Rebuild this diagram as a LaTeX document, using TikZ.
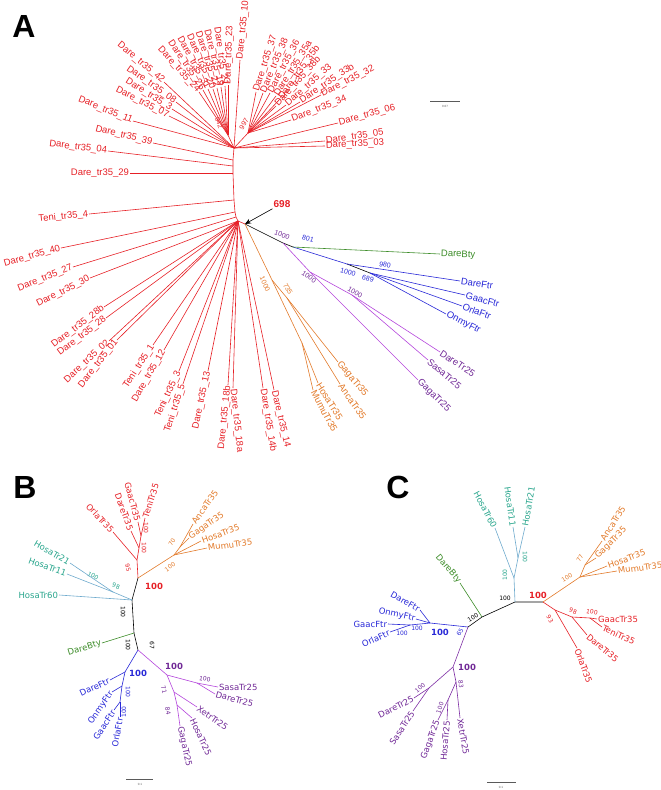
\documentclass[tikz,border=0pt]{standalone}
\usepackage{fontspec}
\newfontfamily\fa{Liberation Sans}
\newfontfamily\fb{DejaVu Sans}
\usetikzlibrary{arrows.meta}
\definecolor{cred}{RGB}{230,32,38}
\definecolor{corange}{RGB}{226,122,42}
\definecolor{cpurple}{RGB}{112,40,150}
\definecolor{cmagenta}{RGB}{180,70,220}
\definecolor{cblue}{RGB}{40,40,215}
\definecolor{cgreen}{RGB}{60,140,40}
\definecolor{cteal}{RGB}{40,165,140}
\definecolor{ctealline}{RGB}{110,170,205}
\definecolor{cgrey}{RGB}{90,90,90}

\begin{document}
\begin{tikzpicture}[x=1pt, y=-1pt,
    leafa/.style={inner sep=0.8pt, font=\fa\fontsize{9.5}{10}\selectfont},
    leafb/.style={inner sep=0.8pt, font=\fb\fontsize{8.5}{9}\selectfont},
    boota/.style={inner sep=0pt, font=\fa\fontsize{7}{7}\selectfont},
    bootb/.style={inner sep=0pt, font=\fb\fontsize{6}{6}\selectfont},
    bigboot/.style={inner sep=0pt, font=\fb\bfseries\fontsize{8.5}{9}\selectfont},
    panel/.style={inner sep=0pt, font=\fa\bfseries\fontsize{32}{32}\selectfont},
    br/.style={line width=0.6pt},
    scalebar/.style={line width=0.8pt, cgrey}]
\useasboundingbox (0,0) rectangle (661,790);

% ---------- panel A ----------
\node[panel] (pa) at (24,26) {A};

\coordinate (j0) at (234,148);
\coordinate (n942) at (228,135);
\coordinate (n997) at (248,133);
\coordinate (s1) at (233,160);
\coordinate (s2) at (233,166);
\coordinate (s3) at (233,173.5);
\coordinate (s4) at (234,200);
\coordinate (s5) at (235,212);
\coordinate (s6) at (236,217);
\coordinate (rA) at (238,221);
\coordinate (tipA) at (245,224);
\draw[br,cred] (j0) -- (s1) -- (s2) -- (s3) -- (s4) -- (s5) -- (s6) -- (rA);
\draw[br,cred] (j0) -- (n942);
\draw[br,cred] (j0) -- (n997);
\draw[br,cred] (rA) -- (tipA);

\node[boota,cred,rotate=-70] (b942) at (219,123) {942};
\node[boota,cred,rotate=60] (b997) at (244,124) {997};

\node[leafa,cred,rotate=-40,anchor=east] (a42) at (164,82) {Dare\_tr35\_42};
\node[leafa,cred,rotate=-35,anchor=east] (a08) at (176,102) {Dare\_tr35\_08};
\node[leafa,cred,rotate=-32,anchor=east] (a3) at (172,109) {Dare\_tr35\_3};
\node[leafa,cred,rotate=-27,anchor=east] (a07) at (169,116) {Dare\_tr35\_07};
\node[leafa,cred,rotate=-22,anchor=east] (a11) at (133,121) {Dare\_tr35\_11};
\draw[br,cred] (j0) -- (a42.east);
\draw[br,cred] (j0) -- (a08.east);
\draw[br,cred] (j0) -- (a3.east);
\draw[br,cred] (j0) -- (a07.east);
\draw[br,cred] (j0) -- (a11.east);

\node[leafa,cred,rotate=-48,anchor=east] (a24) at (199,92) {Dare\_tr35\_24};
\node[leafa,cred,rotate=-56,anchor=east] (a26) at (203,90) {Dare\_tr35\_26};
\node[leafa,cred,rotate=-61,anchor=east] (a31) at (208,89) {Dare\_tr35\_31};
\node[leafa,cred,rotate=-66,anchor=east] (a20) at (213,89) {Dare\_tr35\_20};
\node[leafa,cred,rotate=-71,anchor=east] (a22) at (217,88) {Dare\_tr35\_22};
\node[leafa,cred,rotate=-76,anchor=east] (a19) at (221,87) {Dare\_tr35\_19};
\node[leafa,cred,rotate=-82,anchor=east] (a21) at (225,86) {Dare\_tr35\_21};
\node[leafa,cred,rotate=88,anchor=west] (a23) at (228,85) {Dare\_tr35\_23};
\node[leafa,cred,rotate=84,anchor=west] (a10) at (240,60) {Dare\_tr35\_10};
\draw[br,cred] (n942) -- (a24.east);
\draw[br,cred] (n942) -- (a26.east);
\draw[br,cred] (n942) -- (a31.east);
\draw[br,cred] (n942) -- (a20.east);
\draw[br,cred] (n942) -- (a22.east);
\draw[br,cred] (n942) -- (a19.east);
\draw[br,cred] (n942) -- (a21.east);
\draw[br,cred] (n942) -- (a23.west);
\draw[br,cred] (j0) -- (a10.west);

\node[leafa,cred,rotate=72,anchor=west] (a37) at (256,92) {Dare\_tr35\_37};
\node[leafa,cred,rotate=67,anchor=west] (a38) at (263,93) {Dare\_tr35\_38};
\node[leafa,cred,rotate=62,anchor=west] (a36) at (270,93) {Dare\_tr35\_36};
\node[leafa,cred,rotate=58,anchor=west] (a35a) at (276,96) {Dare\_tr35\_35a};
\node[leafa,cred,rotate=54,anchor=west] (a35b) at (280,99) {Dare\_tr35\_35b};
\node[leafa,cred,rotate=48,anchor=west] (a38b) at (276,106) {Dare\_tr35\_38b};
\node[leafa,cred,rotate=41,anchor=west] (a33) at (286,105) {Dare\_tr35\_33};
\node[leafa,cred,rotate=34,anchor=west] (a33b) at (300,102) {Dare\_tr35\_33b};
\node[leafa,cred,rotate=27,anchor=west] (a32) at (321,95) {Dare\_tr35\_32};
\node[leafa,cred,rotate=21,anchor=west] (a34) at (291,120) {Dare\_tr35\_34};
\draw[br,cred] (n997) -- (a37.west);
\draw[br,cred] (n997) -- (a38.west);
\draw[br,cred] (n997) -- (a36.west);
\draw[br,cred] (n997) -- (a35a.west);
\draw[br,cred] (n997) -- (a35b.west);
\draw[br,cred] (n997) -- (a38b.west);
\draw[br,cred] (n997) -- (a33.west);
\draw[br,cred] (n997) -- (a33b.west);
\draw[br,cred] (n997) -- (a32.west);
\draw[br,cred] (n997) -- (a34.west);

\node[leafa,cred,rotate=15,anchor=west] (a06) at (338,123) {Dare\_tr35\_06};
\node[leafa,cred,rotate=8,anchor=west] (a05) at (325,141) {Dare\_tr35\_05};
\node[leafa,cred,rotate=3,anchor=west] (a03) at (325,146) {Dare\_tr35\_03};
\draw[br,cred] (j0) -- (a06.west);
\draw[br,cred] (j0) -- (a05.west);
\draw[br,cred] (j0) -- (a03.west);

\node[leafa,cred,rotate=-14,anchor=east] (a39) at (153,143) {Dare\_tr35\_39};
\node[leafa,cred,rotate=-7,anchor=east] (a04) at (108,151) {Dare\_tr35\_04};
\node[leafa,cred,anchor=east] (a29) at (130,173.5) {Dare\_tr35\_29};
\node[leafa,cred,rotate=6,anchor=east] (t4) at (89,214) {Teni\_tr35\_4};
\node[leafa,cred,rotate=16,anchor=east] (a40) at (61,248) {Dare\_tr35\_40};
\node[leafa,cred,rotate=22,anchor=east] (a27) at (73,267) {Dare\_tr35\_27};
\draw[br,cred] (s1) -- (a39.east);
\draw[br,cred] (s2) -- (a04.east);
\draw[br,cred] (s3) -- (a29.east);
\draw[br,cred] (s4) -- (t4.east);
\draw[br,cred] (s5) -- (a40.east);
\draw[br,cred] (s6) -- (a27.east);

\node[leafa,cred,rotate=27,anchor=east] (a30) at (90,278) {Dare\_tr35\_30};
\node[leafa,cred,rotate=37,anchor=east] (a28b) at (104,307) {Dare\_tr35\_28b};
\node[leafa,cred,rotate=37,anchor=east] (a28) at (106,318) {Dare\_tr35\_28};
\node[leafa,cred,rotate=43,anchor=east] (a02) at (109,341) {Dare\_tr35\_02};
\node[leafa,cred,rotate=52,anchor=east] (a01) at (117,340) {Dare\_tr35\_01};
\node[leafa,cred,rotate=57,anchor=east] (t1) at (153,345) {Teni\_tr35\_1};
\node[leafa,cred,rotate=60,anchor=east] (a12) at (164,350) {Dare\_tr35\_12};
\node[leafa,cred,rotate=65,anchor=east] (t3) at (179,371) {Teni\_tr35\_3};
\node[leafa,cred,rotate=72,anchor=east] (t5) at (183,384) {Teni\_tr35\_5};
\node[leafa,cred,rotate=78,anchor=east] (a13) at (208,371) {Dare\_tr35\_13};
\node[leafa,cred,rotate=84,anchor=east] (a18b) at (228,385) {Dare\_tr35\_18b};
\node[leafa,cred,rotate=-84,anchor=west] (a18a) at (233,388) {Dare\_tr35\_18a};
\node[leafa,cred,rotate=-81,anchor=west] (a14b) at (263,388) {Dare\_tr35\_14b};
\node[leafa,cred,rotate=-77,anchor=west] (a14) at (274,390) {Dare\_tr35\_14};
\draw[br,cred] (rA) -- (a30.east);
\draw[br,cred] (rA) -- (a28b.east);
\draw[br,cred] (rA) -- (a28.east);
\draw[br,cred] (rA) -- (a02.east);
\draw[br,cred] (rA) -- (a01.east);
\draw[br,cred] (rA) -- (t1.east);
\draw[br,cred] (rA) -- (a12.east);
\draw[br,cred] (rA) -- (t3.east);
\draw[br,cred] (rA) -- (t5.east);
\draw[br,cred] (rA) -- (a13.east);
\draw[br,cred] (rA) -- (a18b.east);
\draw[br,cred] (rA) -- (a18a.west);
\draw[br,cred] (rA) -- (a14b.west);
\draw[br,cred] (rA) -- (a14.west);

\node[font=\fa\bfseries\fontsize{10}{10}\selectfont, text=cred, inner sep=1pt] (b698) at (282,204) {698};
\draw[-{Stealth[length=6pt,width=5pt]}, line width=0.6pt] (b698.south west) -- (tipA);

% outgroups of panel A
\coordinate (nA1) at (283,243);
\coordinate (nA2) at (293,247);
\coordinate (nB1) at (347,264);
\coordinate (nB2) at (370,273);
\coordinate (nP1) at (310,272);
\coordinate (nP2) at (352,295);
\coordinate (nO1) at (272,280);
\coordinate (nO2) at (287,298);
\coordinate (nO3) at (302,343);
\draw[br,black] (tipA) -- (nA1) -- (nA2);
\draw[br,cblue] (nA2) -- (nB1);
\draw[br,black] (nB1) -- (nB2);
\draw[br,cmagenta] (nA1) -- (nP1) -- (nP2);
\draw[br,corange] (tipA) -- (nO1) -- (nO2);
\draw[br,corange] (nO1) -- (nO3);

\node[boota,cpurple,rotate=-20] (q1) at (282,235) {1000};
\node[boota,cblue,rotate=-15] (q2) at (308,239) {801};
\node[boota,cblue,rotate=-12] (q3) at (385,265) {980};
\node[boota,cblue,rotate=-15] (q4) at (348,272) {1000};
\node[boota,cblue,rotate=-15] (q5) at (368,279) {689};
\node[boota,cpurple,rotate=-35] (q6) at (309,277) {1000};
\node[boota,cpurple,rotate=-30] (q7) at (355,292) {1000};
\node[boota,corange,rotate=-65] (q8) at (265,284) {1000};
\node[boota,corange,rotate=-60] (q9) at (288,289) {735};

\node[leafa,cgreen,rotate=-2,anchor=west] (dbty) at (440,254) {DareBty};
\node[leafa,cblue,rotate=-8,anchor=west] (dftr) at (460,281) {DareFtr};
\node[leafa,cblue,rotate=-15,anchor=west] (gftr) at (465,295) {GaacFtr};
\node[leafa,cblue,rotate=-20,anchor=west] (oftr) at (462,306) {OrlaFtr};
\node[leafa,cblue,rotate=-27,anchor=west] (mftr) at (446,314) {OnmyFtr};
\draw[br,cgreen] (nA2) -- (dbty.west);
\draw[br,cblue] (nB1) -- (dftr.west);
\draw[br,cblue] (nB2) -- (gftr.west);
\draw[br,cblue] (nB2) -- (oftr.west);
\draw[br,cblue] (nB2) -- (mftr.west);

\node[leafa,cpurple,rotate=-33,anchor=west] (d25) at (440,352) {DareTr25};
\node[leafa,cpurple,rotate=-40,anchor=west] (s25) at (428,360) {SasaTr25};
\node[leafa,cpurple,rotate=-45,anchor=west] (g25) at (418,380) {GagaTr25};
\draw[br,cmagenta] (nP2) -- (d25.west);
\draw[br,cmagenta] (nP2) -- (s25.west);
\draw[br,cmagenta] (nP1) -- (g25.west);

\node[leafa,corange,rotate=-50,anchor=west] (g35) at (338,362) {GagaTr35};
\node[leafa,corange,rotate=-55,anchor=west] (n35) at (340,384) {AncaTr35};
\node[leafa,corange,rotate=-58,anchor=west] (h35) at (318,383) {HosaTr35};
\node[leafa,corange,rotate=-62,anchor=west] (m35) at (313,390) {MumuTr35};
\draw[br,corange] (nO2) -- (g35.west);
\draw[br,corange] (nO2) -- (n35.west);
\draw[br,corange] (nO3) -- (h35.west);
\draw[br,corange] (nO3) -- (m35.west);

\coordinate (sa1) at (430,101);
\coordinate (sa2) at (460,101);
\draw[scalebar] (sa1) -- (sa2);
\node[inner sep=0pt, font=\fa\fontsize{3}{3}\selectfont, cgrey] (sal) at (445,106) {0.07};

% ---------- panel B ----------
\node[panel] (pb) at (25,487) {B};

\coordinate (bR) at (138,578);
\coordinate (bT) at (132,600);
\coordinate (bG) at (134,633);
\coordinate (bBP) at (138,650);
\draw[br,black] (bR) -- (bT) -- (bG) -- (bBP);
\node[bigboot,cred,anchor=west] (bb1) at (145,586) {100};
\node[bootb,black,rotate=-90] (bb2) at (123,612) {100};
\node[bootb,black,rotate=-90] (bb3) at (128,645) {100};
\node[bootb,black,rotate=-90] (bb4) at (152,645) {67};

\coordinate (bR1) at (137,560);
\coordinate (bR2) at (139,548);
\coordinate (bR3) at (141,536);
\draw[br,cred] (bR) -- (bR1) -- (bR2) -- (bR3);
\node[bootb,cred,rotate=-75] (bb5) at (128,568) {95};
\node[bootb,cred,rotate=-90] (bb6) at (144,548) {100};
\node[bootb,cred,rotate=-90] (bb7) at (146,528) {100};
\node[leafb,cred,rotate=-47,anchor=east] (bor35) at (113,532) {OrlaTr35};
\node[leafb,cred,rotate=-70,anchor=east] (bda35) at (131,531) {DareTr35};
\node[leafb,cred,rotate=-75,anchor=east] (bga35) at (138,522) {GaacTr35};
\node[leafb,cred,rotate=72,anchor=west] (bte35) at (145,518) {TeniTr35};
\draw[br,cred] (bR1) -- (bor35.east);
\draw[br,cred] (bR2) -- (bda35.east);
\draw[br,cred] (bR3) -- (bga35.east);
\draw[br,cred] (bR3) -- (bte35.west);

\coordinate (bO1) at (174,555);
\coordinate (bO2) at (180,547);
\draw[br,corange] (bR) -- (bO1) -- (bO2);
\node[bootb,corange,rotate=35] (bb8) at (170,567) {100};
\node[bootb,corange,rotate=60] (bb9) at (172,542) {70};
\node[leafb,corange,rotate=55,anchor=west] (ban35) at (193,524) {AncaTr35};
\node[leafb,corange,rotate=35,anchor=west] (bgg35) at (189,538) {GagaTr35};
\node[leafb,corange,rotate=20,anchor=west] (bho35) at (201,541) {HosaTr35};
\node[leafb,corange,rotate=8,anchor=west] (bmu35) at (207,548) {MumuTr35};
\draw[br,corange] (bO2) -- (ban35.west);
\draw[br,corange] (bO2) -- (bgg35.west);
\draw[br,corange] (bO1) -- (bho35.west);
\draw[br,corange] (bO1) -- (bmu35.west);

\coordinate (bT1) at (113,592);
\draw[br,ctealline] (bT) -- (bT1);
\node[bootb,cteal,rotate=-20] (bb10) at (116,586) {98};
\node[bootb,cteal,rotate=-30] (bb11) at (93,576) {100};
\node[leafb,cteal,anchor=east] (bh60) at (59,595) {HosaTr60};
\node[leafb,cteal,rotate=-20,anchor=east] (bh11) at (67,574) {HosaTr11};
\node[leafb,cteal,rotate=-30,anchor=east] (bh21) at (70,563) {HosaTr21};
\draw[br,ctealline] (bT) -- (bh60.east);
\draw[br,ctealline] (bT1) -- (bh11.east);
\draw[br,ctealline] (bT1) -- (bh21.east);

\node[leafb,cgreen,rotate=17,anchor=east] (bbty) at (102,643) {DareBty};
\draw[br,cgreen] (bG) -- (bbty.east);

\coordinate (bB1) at (125,672);
\coordinate (bB2) at (122,686);
\coordinate (bB3) at (120,702);
\draw[br,cblue] (bBP) -- (bB1) -- (bB2) -- (bB3);
\node[bigboot,cblue,anchor=west] (bb12) at (129,673) {100};
\node[bootb,cblue,rotate=-90] (bb13) at (128,692) {100};
\node[bootb,cblue,rotate=90] (bb14) at (124,712) {100};
\node[leafb,cblue,rotate=25,anchor=east] (bdftr) at (110,680) {DareFtr};
\node[leafb,cblue,rotate=55,anchor=east] (bmftr) at (112,692) {OnmyFtr};
\node[leafb,cblue,rotate=57,anchor=east] (bgftr) at (114,710) {GaacFtr};
\node[leafb,cblue,rotate=80,anchor=east] (boftr) at (120,717) {OrlaFtr};
\draw[br,cblue] (bB1) -- (bdftr.east);
\draw[br,cblue] (bB2) -- (bmftr.east);
\draw[br,cblue] (bB3) -- (bgftr.east);
\draw[br,cblue] (bB3) -- (boftr.east);

\coordinate (bP1) at (167,675);
\coordinate (bP2) at (197,683);
\coordinate (bP3) at (174,692);
\coordinate (bP4) at (177,705);
\draw[br,cmagenta] (bBP) -- (bP1) -- (bP2);
\draw[br,cmagenta] (bP1) -- (bP3) -- (bP4);
\node[bigboot,cpurple,anchor=west] (bb15) at (165,666) {100};
\node[bootb,cpurple,rotate=-10] (bb16) at (205,679) {100};
\node[bootb,cpurple,rotate=-75] (bb17) at (164,690) {71};
\node[bootb,cpurple,rotate=-80] (bb18) at (168,711) {84};
\node[leafb,cpurple,anchor=west] (bs25) at (218,687) {SasaTr25};
\node[leafb,cpurple,rotate=-15,anchor=west] (bd25) at (215,694) {DareTr25};
\node[leafb,cpurple,rotate=-35,anchor=west] (bx25) at (197,707) {XetrTr25};
\node[leafb,cpurple,rotate=-65,anchor=west] (bh25) at (192,718) {HosaTr25};
\node[leafb,cpurple,rotate=-78,anchor=west] (bg25) at (180,726) {GagaTr25};
\draw[br,cmagenta] (bP2) -- (bs25.west);
\draw[br,cmagenta] (bP2) -- (bd25.west);
\draw[br,cmagenta] (bP3) -- (bx25.west);
\draw[br,cmagenta] (bP4) -- (bh25.west);
\draw[br,cmagenta] (bP4) -- (bg25.west);

\coordinate (sb1) at (126,779);
\coordinate (sb2) at (153,779);
\draw[scalebar] (sb1) -- (sb2);
\node[inner sep=0pt, font=\fa\fontsize{3}{3}\selectfont, cgrey] (sbl) at (140,784) {0.1};

% ---------- panel C ----------
\node[panel] (pc) at (398,487) {C};

\coordinate (cR) at (543,602);
\coordinate (cT) at (515,602);
\coordinate (cG) at (482,617);
\coordinate (cBP) at (468,627);
\draw[br,black] (cR) -- (cT) -- (cG) -- (cBP);
\node[bigboot,cred] (cb1) at (538,595) {100};
\node[bootb,black] (cb2) at (505,598) {100};
\node[bootb,black,rotate=30] (cb3) at (473,618) {100};

\coordinate (cT1) at (514,578);
\coordinate (cT2) at (518,558);
\draw[br,ctealline] (cT) -- (cT1) -- (cT2);
\node[bootb,cteal,rotate=90] (cb4) at (505,575) {100};
\node[bootb,cteal,rotate=-90] (cb5) at (525,557) {100};
\node[leafb,cteal,rotate=-62,anchor=east] (ch60) at (495,528) {HosaTr60};
\node[leafb,cteal,rotate=-82,anchor=east] (ch11) at (513,527) {HosaTr11};
\node[leafb,cteal,rotate=80,anchor=west] (ch21) at (525,527) {HosaTr21};
\draw[br,ctealline] (cT1) -- (ch60.east);
\draw[br,ctealline] (cT2) -- (ch11.east);
\draw[br,ctealline] (cT2) -- (ch21.west);

\node[leafb,cgreen,rotate=-50,anchor=east] (cbty) at (460,583) {DareBty};
\draw[br,cgreen] (cG) -- (cbty.east);

\coordinate (cB1) at (430,623);
\coordinate (cB2) at (410,625);
\draw[br,cblue] (cBP) -- (cB1) -- (cB2);
\node[bigboot,cblue] (cb6) at (440,632) {100};
\node[bootb,cblue,rotate=60] (cb7) at (460,632) {65};
\node[bootb,cblue] (cb8) at (417,628) {100};
\node[bootb,cblue] (cb9) at (402,633) {100};
\node[leafb,cblue,rotate=-30,anchor=east] (cdftr) at (420,610) {DareFtr};
\node[leafb,cblue,rotate=-12,anchor=east] (cmftr) at (416,619) {OnmyFtr};
\node[leafb,cblue,anchor=east] (cgftr) at (388,624) {GaacFtr};
\node[leafb,cblue,rotate=25,anchor=east] (coftr) at (390,632) {OrlaFtr};
\draw[br,cblue] (cB1) -- (cdftr.east);
\draw[br,cblue] (cB1) -- (cmftr.east);
\draw[br,cblue] (cB2) -- (cgftr.east);
\draw[br,cblue] (cB2) -- (coftr.east);

\coordinate (cP1) at (453,667);
\coordinate (cP2) at (429,688);
\coordinate (cP3) at (456,682);
\coordinate (cP4) at (448,700);
\draw[br,cpurple!80!cmagenta] (cBP) -- (cP1) -- (cP2);
\draw[br,cpurple!80!cmagenta] (cP1) -- (cP3) -- (cP4);
\node[bigboot,cpurple,anchor=west] (cb10) at (458,667) {100};
\node[bootb,cpurple,rotate=40] (cb11) at (420,688) {100};
\node[bootb,cpurple,rotate=-85] (cb12) at (461,684) {83};
\node[bootb,cpurple,rotate=70] (cb13) at (440,708) {100};
\node[leafb,cpurple,rotate=27,anchor=east] (cd25) at (414,698) {DareTr25};
\node[leafb,cpurple,rotate=57,anchor=east] (cs25) at (413,711) {SasaTr25};
\node[leafb,cpurple,rotate=70,anchor=east] (cg25) at (438,720) {GagaTr25};
\node[leafb,cpurple,rotate=85,anchor=east] (ch25) at (447,720) {HosaTr25};
\node[leafb,cpurple,rotate=-80,anchor=west] (cx25) at (460,718) {XetrTr25};
\draw[br,cpurple!80!cmagenta] (cP2) -- (cd25.east);
\draw[br,cpurple!80!cmagenta] (cP2) -- (cs25.east);
\draw[br,cpurple!80!cmagenta] (cP4) -- (cg25.east);
\draw[br,cpurple!80!cmagenta] (cP4) -- (ch25.east);
\draw[br,cpurple!80!cmagenta] (cP3) -- (cx25.west);

\coordinate (cR1) at (555,610);
\coordinate (cR2) at (572,617);
\coordinate (cR3) at (590,618);
\draw[br,cred] (cR) -- (cR1) -- (cR2) -- (cR3);
\node[bootb,cred,rotate=-60] (cb14) at (550,619) {93};
\node[bootb,cred,rotate=-20] (cb15) at (573,611) {98};
\node[bootb,cred,rotate=-10] (cb16) at (592,612) {100};
\node[leafb,cred,rotate=-70,anchor=west] (cor35) at (577,648) {OrlaTr35};
\node[leafb,cred,rotate=-40,anchor=west] (cda35) at (587,635) {DareTr35};
\node[leafb,cred,anchor=west] (cga35) at (597,619) {GaacTr35};
\node[leafb,cred,rotate=-25,anchor=west] (cte35) at (602,627) {TeniTr35};
\draw[br,cred] (cR1) -- (cor35.west);
\draw[br,cred] (cR2) -- (cda35.west);
\draw[br,cred] (cR3) -- (cga35.west);
\draw[br,cred] (cR3) -- (cte35.west);

\coordinate (cO1) at (580,577);
\coordinate (cO2) at (585,565);
\draw[br,corange] (cR) -- (cO1) -- (cO2);
\node[bootb,corange,rotate=30] (cb17) at (567,578) {100};
\node[bootb,corange,rotate=60] (cb18) at (580,558) {77};
\node[leafb,corange,rotate=58,anchor=west] (can35) at (602,541) {AncaTr35};
\node[leafb,corange,rotate=45,anchor=west] (cgg35) at (596,558) {GagaTr35};
\node[leafb,corange,rotate=20,anchor=west] (cho35) at (607,566) {HosaTr35};
\node[leafb,corange,rotate=8,anchor=west] (cmu35) at (617,571) {MumuTr35};
\draw[br,corange] (cO2) -- (can35.west);
\draw[br,corange] (cO2) -- (cgg35.west);
\draw[br,corange] (cO1) -- (cho35.west);
\draw[br,corange] (cO1) -- (cmu35.west);

\coordinate (sc1) at (487,782);
\coordinate (sc2) at (516,782);
\draw[scalebar] (sc1) -- (sc2);
\node[inner sep=0pt, font=\fa\fontsize{3}{3}\selectfont, cgrey] (scl) at (501,787) {0.1};
\end{tikzpicture}
\end{document}
